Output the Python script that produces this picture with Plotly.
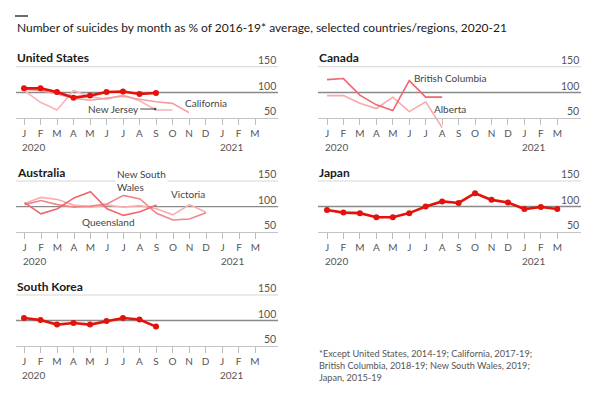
import plotly.graph_objects as go

W, H = 600, 394
FONT = "Lato"

month_labels = ["J", "F", "M", "A", "M", "J", "J", "A", "S", "O", "N", "D", "J", "F", "M"]
months = list(range(15))

# United States panel
us = [108, 108, 101, 90, 94, 101, 102, 97, 99]
california = [106, 104, 97, 89, 85, 89, 93, 87, 82, 79, 61]
new_jersey = [104, 81, 66, 104, 92, 87, 95, 84, 66, 66]
# Canada panel
british_columbia = [125, 127, 95, 76, 65, 123, 91, 91]
alberta = [94, 94, 79, 69, 91, 63, 82, 32]
# Australia panel
new_south_wales = [104, 112, 104, 99, 101, 105, 122, 115, 87, 74, 76, 88]
victoria = [106, 118, 114, 103, 99, 103, 99, 102, 96, 84, 104, 89]
queensland = [108, 86, 96, 117, 129, 96, 83, 90, 103]
# Japan and South Korea
japan = [93, 88, 87, 79, 79, 87, 100, 110, 107, 126, 113, 108, 95, 99, 95]
south_korea = [105, 101, 92, 95, 92, 99, 105, 102, 88]

RED = "#e3120b"
GRID = "#d6d6d6"
MID = "#8a8a8a"
TXT = "#555555"

fig = go.Figure()

# panel geometry in pixels: (x_left, x_right, x_of_first_month, px_per_month, y150, y50)
panels = {
    1: (16, 278, 24, 16.5, 66.7, 118.3, "United States"),
    2: (318, 581, 327, 16.45, 66.7, 118.3, "Canada"),
    3: (16, 278, 24.5, 16.5, 181, 232.3, "Australia"),
    4: (318, 581, 327, 16.45, 181, 232, "Japan"),
    5: (16, 278, 24, 16.5, 295, 346, "South Korea"),
}
YLO, YHI = 20, 160

layout_axes = {}
annotations = []
shapes = []
for i, (xl, xr, xj, ppm, y150, y50, title) in panels.items():
    s = (y50 - y150) / 100.0
    top = y150 - (YHI - 150) * s
    bot = y50 + (50 - YLO) * s
    xname = "xaxis" if i == 1 else f"xaxis{i}"
    yname = "yaxis" if i == 1 else f"yaxis{i}"
    xr_ = "x" if i == 1 else f"x{i}"
    yr_ = "y" if i == 1 else f"y{i}"
    layout_axes[xname] = dict(
        domain=[xl / W, xr / W],
        range=[-(xj - xl) / ppm, (xr - xj) / ppm],
        anchor="free",
        position=1 - y50 / H,
        tickvals=months,
        ticktext=month_labels,
        ticks="outside",
        ticklen=6,
        tickcolor="#bdbdbd",
        tickwidth=1,
        showline=True,
        linecolor="#c4c4c4",
        linewidth=1,
        showgrid=False,
        zeroline=False,
        tickfont=dict(family=FONT, size=10, color=TXT),
        fixedrange=True,
    )
    layout_axes[yname] = dict(
        domain=[1 - bot / H, 1 - top / H],
        range=[YLO, YHI],
        anchor=xr_,
        visible=False,
        fixedrange=True,
    )
    # gridlines at 150 and 100
    shapes.append(dict(type="line", xref=f"{xr_} domain", yref=yr_, x0=0, x1=1, y0=150, y1=150,
                       line=dict(color=GRID, width=1), layer="below"))
    shapes.append(dict(type="line", xref=f"{xr_} domain", yref=yr_, x0=0, x1=1, y0=100, y1=100,
                       line=dict(color=MID, width=1.4), layer="below"))
    for v in (150, 100, 50):
        annotations.append(dict(xref=f"{xr_} domain", yref=yr_, x=1, y=v, text=str(v),
                                xanchor="right", yanchor="bottom", showarrow=False, yshift=-1,
                                font=dict(family=FONT, size=10.5, color=TXT)))
    for xv, yr_txt in ((0, "2020"), (12, "2021")):
        annotations.append(dict(xref=xr_, yref="paper", x=xv, y=1 - (y50 + 28.5) / H, text=yr_txt,
                                xanchor="left", yanchor="middle", xshift=-4, showarrow=False,
                                font=dict(family=FONT, size=10, color=TXT)))
    annotations.append(dict(xref="paper", yref="paper", x=(xl - 1) / W, y=1 - (y150 - 9) / H,
                            text=f"<b>{title}</b>", xanchor="left", yanchor="middle", showarrow=False,
                            font=dict(family=FONT, size=12, color="#1a1a1a")))


def add_line(vals, panel, color, width, markers=False):
    xr_ = "x" if panel == 1 else f"x{panel}"
    yr_ = "y" if panel == 1 else f"y{panel}"
    fig.add_trace(go.Scatter(
        x=months[:len(vals)], y=vals, xaxis=xr_, yaxis=yr_,
        mode="lines+markers" if markers else "lines",
        line=dict(color=color, width=width),
        marker=dict(size=6, color=color),
        hoverinfo="skip", showlegend=False,
    ))


add_line(new_jersey, 1, "#f8b3b5", 1.6)
add_line(california, 1, "#f59ca0", 1.6)
add_line(us, 1, RED, 2.6, True)
add_line(alberta, 2, "#f7a9ab", 1.6)
add_line(british_columbia, 2, "#f0676d", 1.6)
add_line(victoria, 3, "#f8aeb1", 1.6)
add_line(new_south_wales, 3, "#f38489", 1.6)
add_line(queensland, 3, "#f1666c", 1.6)
add_line(japan, 4, RED, 2.6, True)
add_line(south_korea, 5, RED, 2.6, True)

lab = dict(family=FONT, size=10, color="#444444")
annotations += [
    dict(xref="x", yref="y", x=7.95, y=68, ax=-42, ay=0, text="New Jersey", showarrow=True,
         arrowhead=6, arrowsize=0.6, arrowwidth=1, arrowcolor="#444444", font=lab),
    dict(xref="x", yref="y", x=11, y=80, text="California", showarrow=False, font=lab),
    dict(xref="x2", yref="y2", x=7.45, y=129, text="British Columbia", showarrow=False, font=lab),
    dict(xref="x2", yref="y2", x=7.5, y=68, text="Alberta", showarrow=False, font=lab),
    dict(xref="x3", yref="y3", x=5.5, y=151, text="New South<br>Wales", showarrow=False,
         xanchor="left", align="left", bgcolor="white", font=lab),
    dict(xref="x3", yref="y3", x=9.9, y=124, text="Victoria", showarrow=False, font=lab),
    dict(xref="x3", yref="y3", x=5.1, y=71, text="Queensland", showarrow=False, font=lab),
    dict(xref="paper", yref="paper", x=15 / W, y=1 - 28 / H,
         text="Number of suicides by month as % of 2016-19* average, selected countries/regions, 2020-21",
         xanchor="left", yanchor="middle", showarrow=False,
         font=dict(family=FONT, size=12, color="#1a1a1a")),
    dict(xref="paper", yref="paper", x=317 / W, y=1 - 365 / H,
         text="*Except United States, 2014-19; California, 2017-19;<br>British Columbia, 2018-19; New South Wales, 2019;<br>Japan, 2015-19",
         xanchor="left", yanchor="middle", align="left", showarrow=False,
         font=dict(family=FONT, size=9.2, color=TXT)),
]
shapes.append(dict(type="line", xref="paper", yref="paper", x0=15 / W, x1=28 / W,
                   y0=1 - 16 / H, y1=1 - 16 / H, line=dict(color="#3a3a3a", width=1.5)))

fig.update_layout(
    width=W, height=H,
    margin=dict(l=0, r=0, t=0, b=0),
    paper_bgcolor="white", plot_bgcolor="rgba(0,0,0,0)",
    font=dict(family=FONT),
    showlegend=False,
    annotations=annotations,
    shapes=shapes,
    **layout_axes,
)
fig.write_html("out.html", config={"displayModeBar": False},
               post_script="document.body.style.margin='0';document.body.style.overflow='hidden';")
